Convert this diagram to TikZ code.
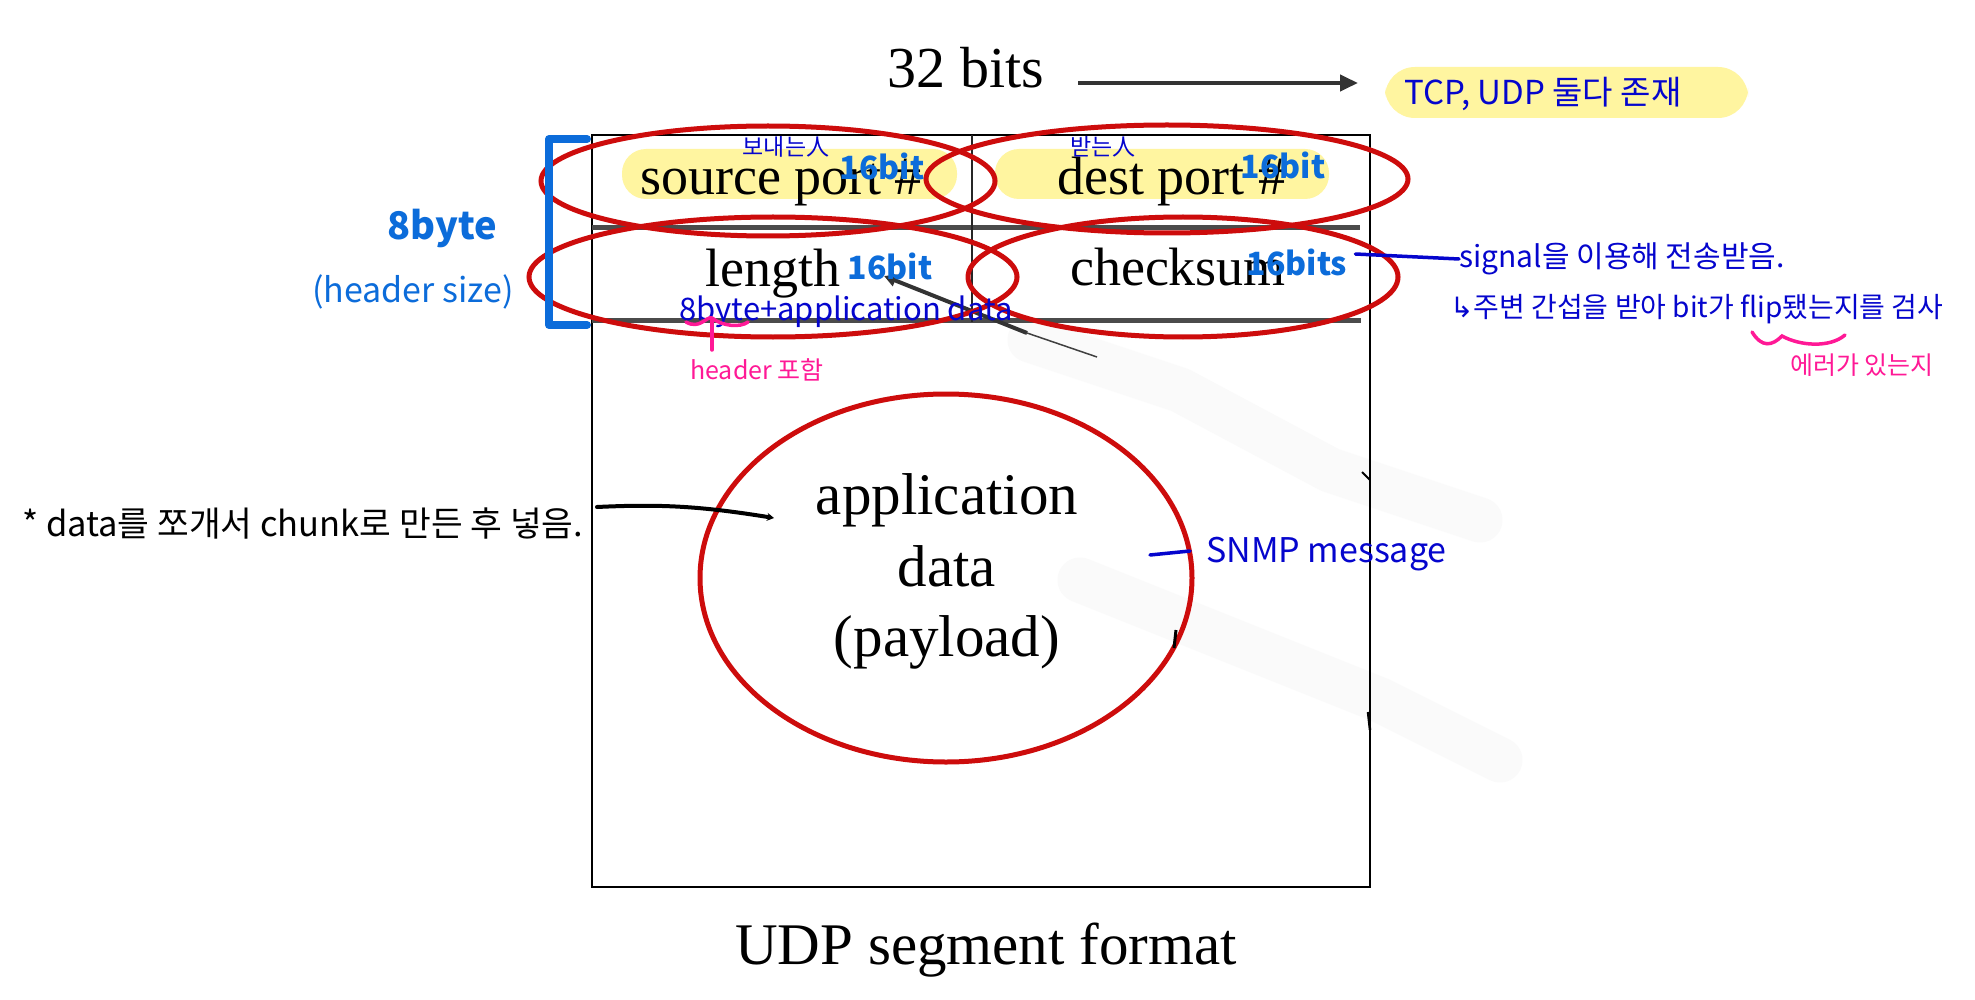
\documentclass[tikz,border=0pt]{standalone}
\usepackage{fontspec}
\setmainfont{Liberation Serif}
\newfontfamily\hand{Noto Sans CJK KR}
\newfontfamily\symf{DejaVu Sans}
\usetikzlibrary{shapes.geometric,arrows.meta}
\definecolor{udpred}{RGB}{205,12,12}
\definecolor{hlyellow}{RGB}{255,245,160}
\definecolor{penblue}{RGB}{12,108,218}
\definecolor{inkblue}{RGB}{5,5,205}
\definecolor{penpink}{RGB}{255,25,150}
\definecolor{rowgray}{RGB}{75,75,75}
\tikzset{
  fieldtxt/.style={font=\fontsize{54}{60}\selectfont, inner sep=0pt, anchor=base},
  bigtxt/.style={font=\fontsize{59}{66}\selectfont, inner sep=0pt, anchor=base},
  redell/.style={draw=udpred, line width=5pt, ellipse, inner sep=0pt},
  bitnote/.style={text=penblue, font=\hand\bfseries\fontsize{32}{34}\selectfont, inner sep=0pt},
  smallnote/.style={text=inkblue, font=\hand\fontsize{23}{25}\selectfont, inner sep=0pt},
  inknote/.style={text=inkblue, font=\hand\fontsize{29}{32}\selectfont, inner sep=0pt, anchor=west},
  pinknote/.style={text=penpink, font=\hand\fontsize{25}{27}\selectfont, inner sep=0pt},
  smudge/.style={draw=black!2, line width=45pt, line cap=round, line join=round}
}
\begin{document}
\begin{tikzpicture}[x=1pt,y=-1pt]
\useasboundingbox[fill=white] (0,0) rectangle (1975,1000);

% faint erased strokes
\draw[smudge] (1030,340) -- (1180,390) -- (1330,470) -- (1480,520);
\draw[smudge] (1080,580) -- (1230,640) -- (1380,700) -- (1500,760);

% yellow highlights
\fill[hlyellow, rounded corners=30pt] (1385,67) rectangle (1748,118);
\fill[hlyellow, rounded corners=24pt] (622,149) rectangle (957,199);
\fill[hlyellow, rounded corners=24pt] (995,149) rectangle (1329,199);

% main segment box
\node[draw, line width=2.5pt, minimum width=778pt, minimum height=752pt, inner sep=0pt] (box) at (981,511) {};
\coordinate (rowA) at (592,228);
\coordinate (rowAe) at (1360,228);
\coordinate (rowB) at (592,320);
\coordinate (rowBe) at (1361,320);
\coordinate (divtop) at (972,135);
\coordinate (divbot) at (972,322);
\draw[rowgray, line width=5pt] (rowA) -- (rowAe);
\draw[rowgray, line width=5pt] (rowB) -- (rowBe);
\draw[line width=2.5pt, black!85] (divtop) -- (divbot);

% small marks on the box edge
\coordinate (mk1) at (1362,472);
\coordinate (mk2) at (1370,480);
\draw[line width=2pt] (mk1) -- (mk2);
\coordinate (mk3) at (1368,712);
\coordinate (mk4) at (1370,730);
\draw[line width=2.5pt] (mk3) -- (mk4);

% field texts
\node[fieldtxt] (src) at (781,195) {source port \#};
\node[fieldtxt] (dst) at (1171,195) {dest port \#};
\node[fieldtxt] (len) at (773,287) {length};
\node[fieldtxt] (chk) at (1178,286) {checksum};
\node[bigtxt] (app1) at (947,514) {application};
\node[bigtxt] (app2) at (947,586) {data};
\node[bigtxt] (app3) at (947,656) {(payload)};
\node[bigtxt] (title) at (986,964) {UDP segment format};
\node[font=\fontsize{58}{64}\selectfont, inner sep=0pt, anchor=base] (bits) at (966,88) {32 bits};

% 32 bits arrow
\coordinate (bitsstart) at (1078,83);
\coordinate (bitsend) at (1358,83);
\draw[line width=4pt, black!80, -{Triangle[length=18pt,width=16pt]}] (bitsstart) -- (bitsend);

% erased length arrow
\coordinate (lenarrowtail) at (1097,357);
\coordinate (lenarrowmid) at (1027,333);
\coordinate (lenarrowtip) at (884,276);
\draw[line width=1.5pt, black!75] (lenarrowtail) -- (lenarrowmid);
\draw[line width=4pt, black!80, -{Triangle[length=12pt,width=12pt]}] (lenarrowmid) -- (lenarrowtip);

% red ellipses
\node[redell, minimum width=454pt, minimum height=110pt] (e1) at (768,181) {};
\node[redell, minimum width=482pt, minimum height=108pt] (e2) at (1167,179) {};
\node[redell, minimum width=488pt, minimum height=120pt] (e3) at (773,277) {};
\node[redell, minimum width=430pt, minimum height=120pt] (e4) at (1183,277) {};
\node[redell, minimum width=492pt, minimum height=368pt] (e5) at (946,578) {};
\coordinate (mk5) at (1176,630);
\coordinate (mk6) at (1174,648);
\draw[line width=3pt] (mk5) -- (mk6);

% blue bracket
\coordinate (brtop) at (587,139);
\coordinate (brbot) at (587,325);
\draw[penblue, line width=8pt, line cap=round, line join=round] (brtop) -- (549,139) -- (549,325) -- (brbot);
\node[text=penblue, font=\hand\bfseries\fontsize{38}{40}\selectfont, inner sep=0pt] (eightbyte) at (442,228) {8byte};
\node[text=penblue, font=\hand\fontsize{34}{36}\selectfont, inner sep=0pt] (hdrsize) at (413,292) {(header size)};

% small labels
\node[smallnote] (sender) at (786,147) {보내는人};
\node[smallnote] (receiver) at (1103,147) {받는人};
\node[bitnote] (b1) at (882,166) {16bit};
\node[bitnote] (b2) at (1283,165) {16bit};
\node[bitnote] (b3) at (890,266) {16bit};
\node[bitnote] (b4) at (1297,262) {16bits};
\node[text=inkblue, font=\hand\fontsize{31}{34}\selectfont, inner sep=0pt] (plus) at (846,312) {8byte+application data};

% pink header note
\coordinate (pk1) at (686,322);
\coordinate (pk2) at (748,322);
\coordinate (pkv) at (712,350);
\draw[penpink, line width=3.5pt, line cap=round] (pk1) .. controls (700,330) and (706,316) .. (712,318) .. controls (722,326) and (740,328) .. (pk2);
\draw[penpink, line width=3.5pt, line cap=round] (712,319) -- (pkv);
\node[pinknote] (hdrincl) at (757,370) {header 포함};

% checksum note
\node[inknote, font=\hand\fontsize{30}{32}\selectfont] (signal) at (1459,259) {signal을 이용해 전송받음.};
\node[inknote, font=\hand\fontsize{28}{30}\selectfont] (flip) at (1450,309) {{\symf ↳}주변 간섭을 받아 bit가 flip됐는지를 검사};
\draw[inkblue, line width=3.5pt, line cap=round] (b4.east) ++(8,-8) coordinate (chkline) -- (signal.west);
\coordinate (ul1) at (1752,332);
\coordinate (ul2) at (1845,335);
\draw[penpink, line width=3.5pt, line cap=round] (ul1) .. controls (1762,348) and (1772,346) .. (1782,336) .. controls (1800,346) and (1830,348) .. (ul2);
\node[pinknote] (err) at (1862,365) {에러가 있는지};

% TCP/UDP note
\node[text=inkblue, font=\hand\fontsize{33}{35}\selectfont, inner sep=0pt] (tcpudp) at (1543,94) {TCP, UDP 둘다 존재};

% chunk note and arrow
\node[text=black, font=\hand\fontsize{34.5}{36}\selectfont, inner sep=0pt, anchor=west] (chunk) at (22,524) {* data를 쪼개서 chunk로 만든 후 넣음.};
\coordinate (chunkstart) at (597,507);
\coordinate (chunkend) at (774,518);
\draw[line width=4pt, line cap=round, -{Stealth[length=7pt,width=8pt]}] (chunkstart) .. controls (660,504) and (700,506) .. (chunkend);

% SNMP note
\coordinate (snmpdash1) at (1150,555);
\coordinate (snmpdash2) at (1190,551);
\draw[inkblue, line width=3.5pt, line cap=round] (snmpdash1) -- (snmpdash2);
\node[text=inkblue, font=\hand\fontsize{34}{36}\selectfont, inner sep=0pt, anchor=west] (snmp) at (1206,554) {SNMP message};
\end{tikzpicture}
\end{document}
